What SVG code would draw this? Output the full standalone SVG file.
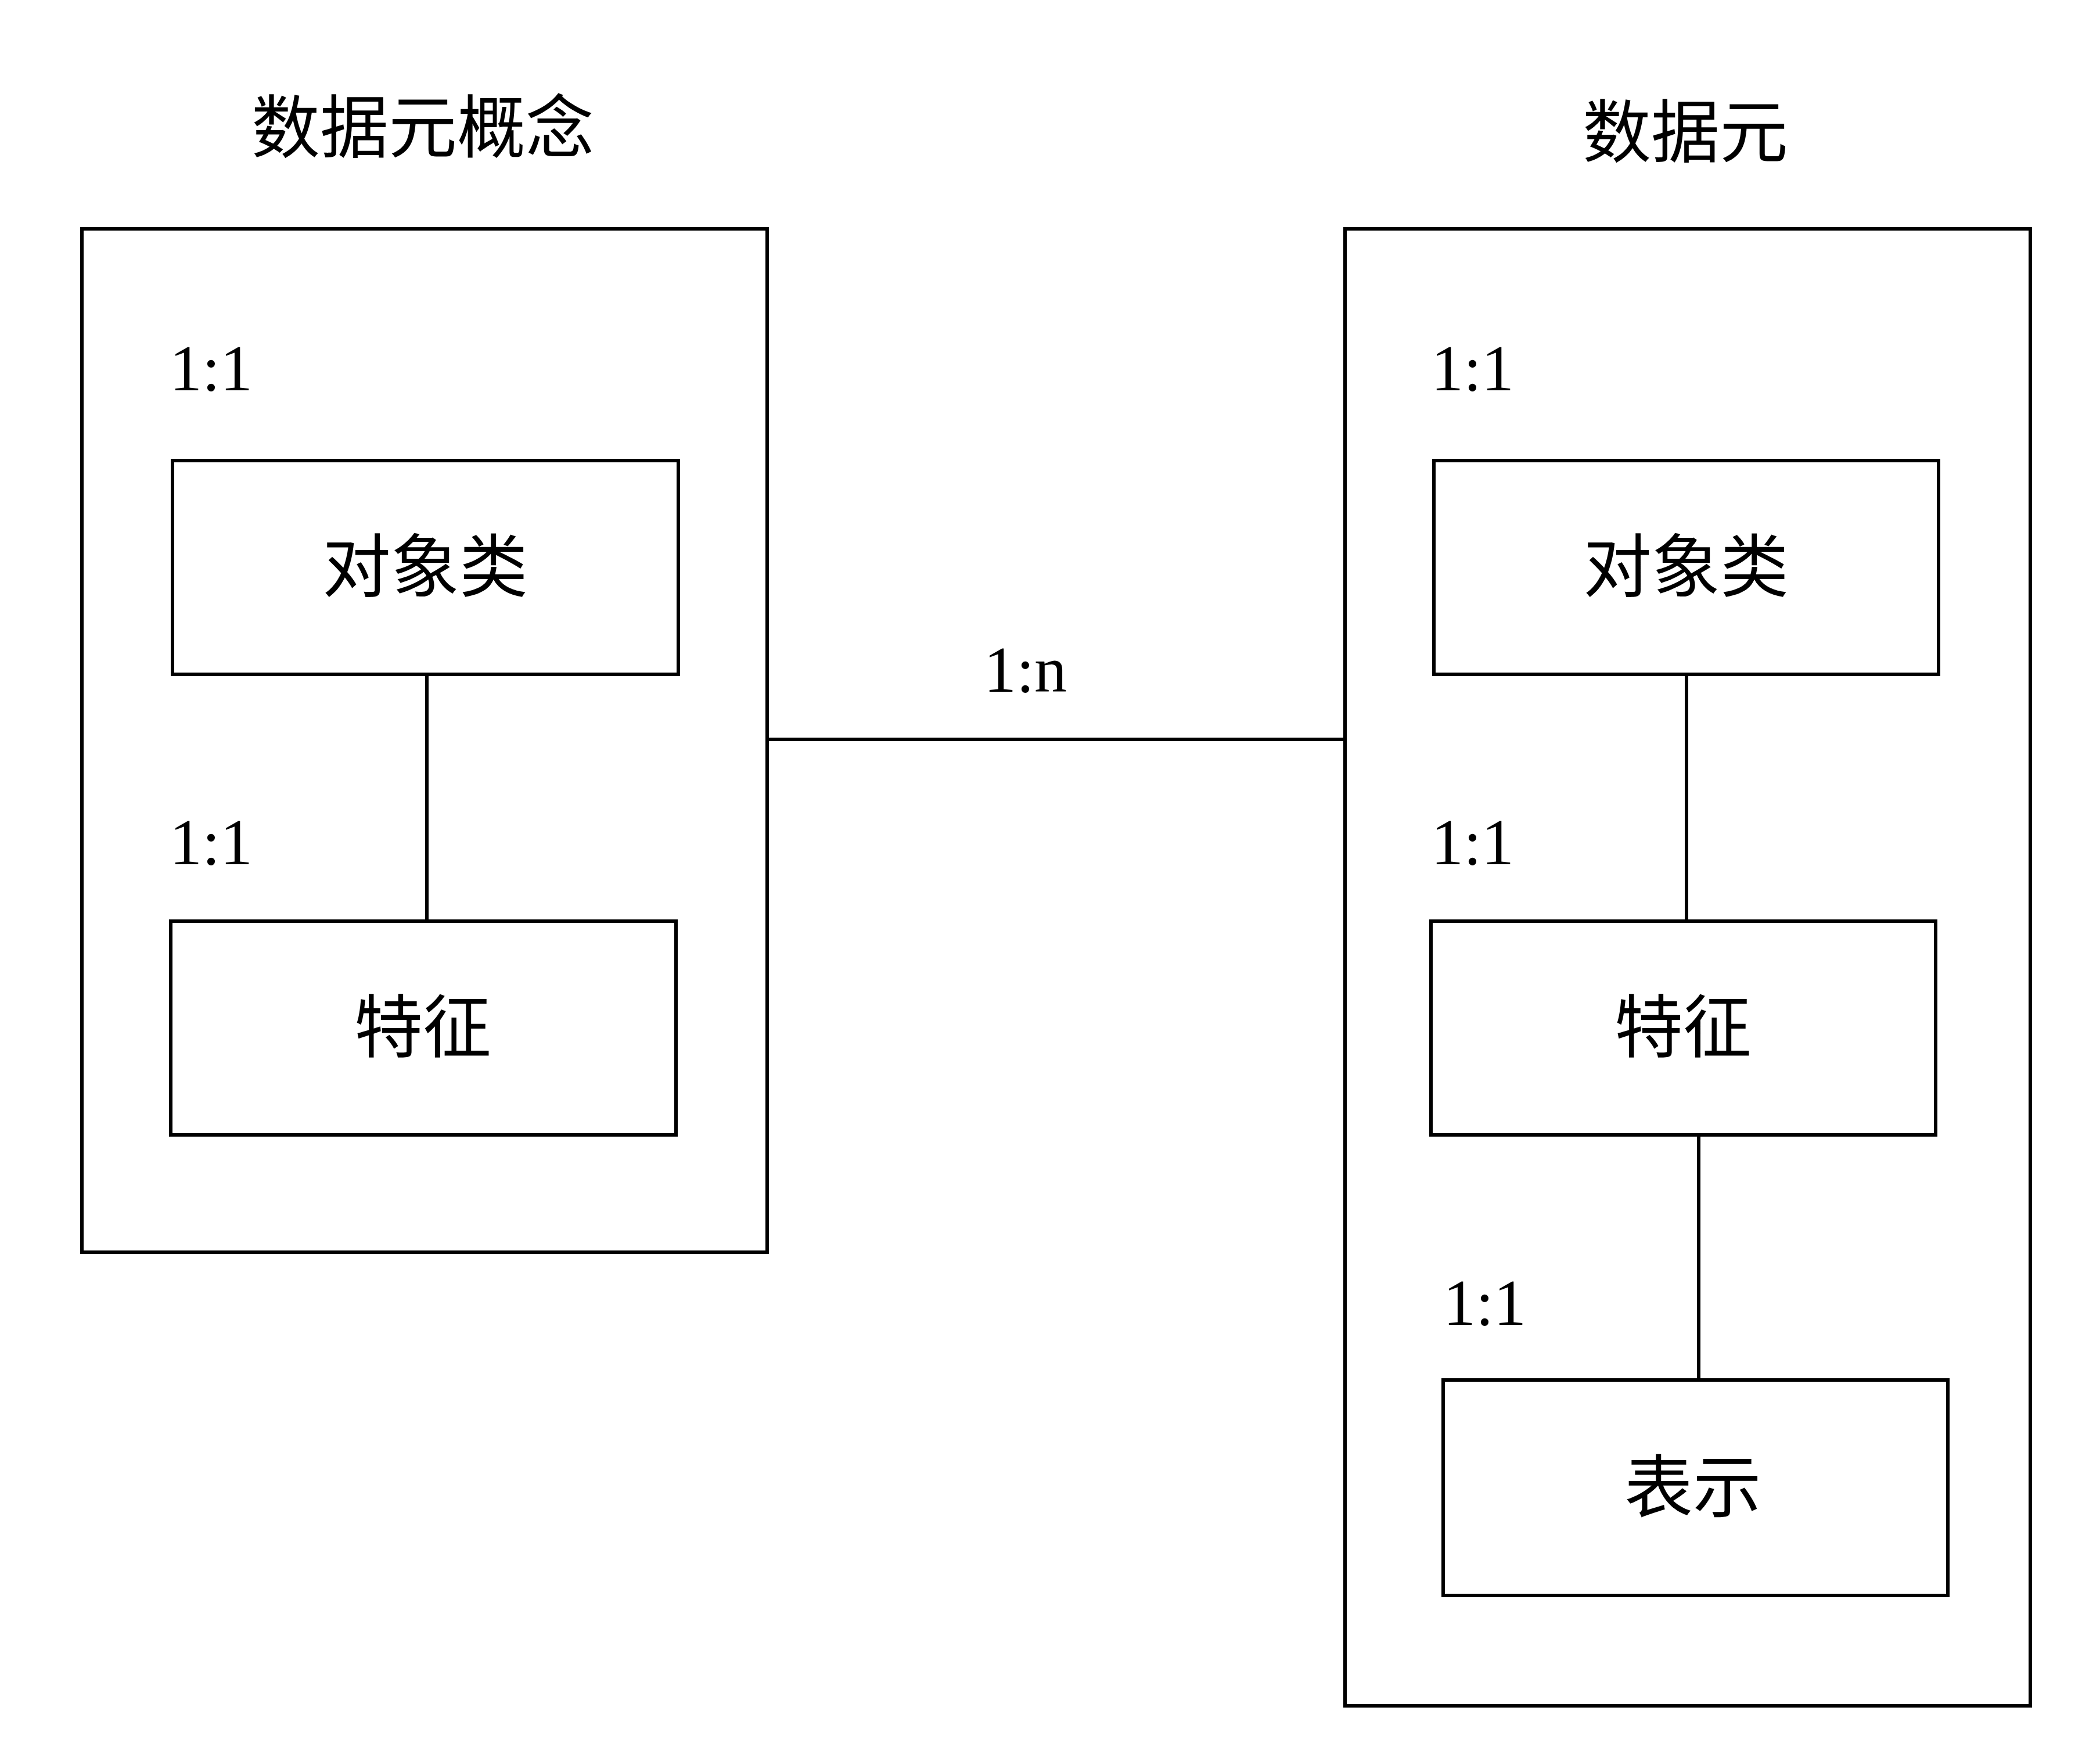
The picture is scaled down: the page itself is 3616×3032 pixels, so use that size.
<svg xmlns="http://www.w3.org/2000/svg" width="3616" height="3032" viewBox="0 0 3616 3032">
<style>
rect{fill:#fff;stroke:#000;stroke-width:6}
line{stroke:#000;stroke-width:6}
.c{font-family:"Noto Sans CJK SC","Noto Sans",sans-serif;font-size:118px;text-anchor:middle}
.n{font-family:"Liberation Serif",serif;font-size:112px}
</style>
<rect width="3616" height="3032" style="stroke:none"/>
<g id="concept"><rect x="141" y="394" width="1180" height="1762"/><text class="c" x="728" y="262">数据元概念</text></g>
<g id="element"><rect x="2316" y="394" width="1180" height="2543"/><text class="c" x="2902" y="270">数据元</text></g>
<g id="connectors">
<line x1="735" y1="1161" x2="735" y2="1586"/>
<line x1="2904" y1="1161" x2="2904" y2="1586"/>
<line x1="2925" y1="1954" x2="2925" y2="2376"/>
<line x1="1321" y1="1273" x2="2316" y2="1273"/>
<text class="n" x="1694" y="1191">1:n</text>
</g>
<g id="c-obj"><rect x="297" y="793" width="871" height="368"/><text class="c" x="732" y="1018">对象类</text><text class="n" x="292" y="672">1:1</text></g>
<g id="c-feat"><rect x="294" y="1586" width="870" height="368"/><text class="c" x="728" y="1811">特征</text><text class="n" x="292" y="1488">1:1</text></g>
<g id="e-obj"><rect x="2469" y="793" width="869" height="368"/><text class="c" x="2903" y="1018">对象类</text><text class="n" x="2464" y="672">1:1</text></g>
<g id="e-feat"><rect x="2464" y="1586" width="869" height="368"/><text class="c" x="2898" y="1811">特征</text><text class="n" x="2464" y="1488">1:1</text></g>
<g id="e-rep"><rect x="2485" y="2376" width="869" height="371"/><text class="c" x="2915" y="2603">表示</text><text class="n" x="2485" y="2281">1:1</text></g>
</svg>
